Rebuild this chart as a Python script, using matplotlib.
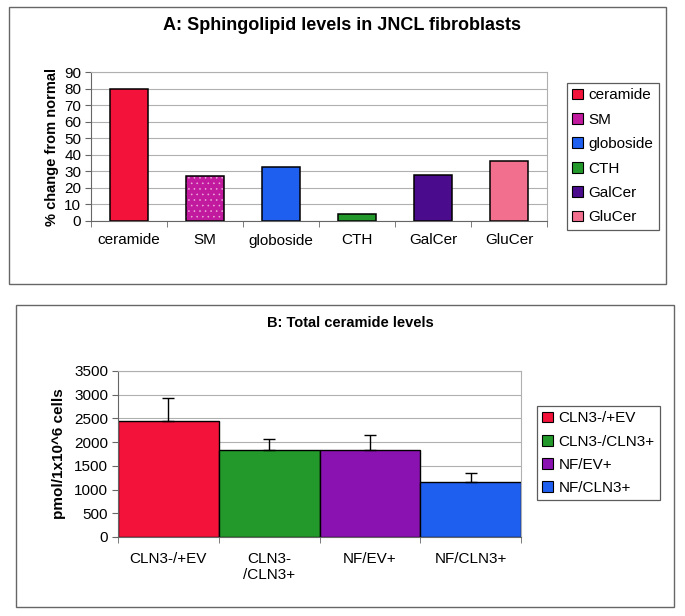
import matplotlib
matplotlib.use("Agg")
import matplotlib.pyplot as plt
from matplotlib.patches import Rectangle, Patch

plt.rcParams['font.family'] = ['Liberation Sans', 'DejaVu Sans']
plt.rcParams['hatch.linewidth'] = 0.4

# panel A data
lipids = ['ceramide', 'SM', 'globoside', 'CTH', 'GalCer', 'GluCer']
pct_change = [79.5, 27, 32.5, 4.5, 27.5, 36.5]
lipid_colors = ['#f2123a', '#c21a9e', '#1f5ff0', '#22992a', '#4a0c8c', '#f2708e']

# panel B data
groups = ['CLN3-/+EV', 'CLN3-/CLN3+', 'NF/EV+', 'NF/CLN3+']
group_ticks = ['CLN3-/+EV', 'CLN3-\n/CLN3+', 'NF/EV+', 'NF/CLN3+']
ceramide_pmol = [2440, 1830, 1830, 1170]
ceramide_err = [490, 240, 320, 180]
group_colors = ['#f2123a', '#22992a', '#8a12b0', '#1f5ff0']

W, H = 685, 616
fig = plt.figure(figsize=(W / 100, H / 100), dpi=100)


def px(x0, y0, x1, y1):
    # pixel box (top-left origin) -> figure fraction rect
    return [x0 / W, (H - y1) / H, (x1 - x0) / W, (y1 - y0) / H]


# outer frames
for box in [(9, 7, 666, 284), (16, 305, 674, 607)]:
    r = px(*box)
    fig.patches.append(Rectangle((r[0], r[1]), r[2], r[3], transform=fig.transFigure,
                                 fill=False, edgecolor='#666666', linewidth=1.0))


def style_axes(ax, xpad):
    ax.set_axisbelow(True)
    ax.yaxis.grid(True, color='#b0b0b0', linewidth=0.8)
    for s in ['top', 'right']:
        ax.spines[s].set_color('#b0b0b0')
    for s in ['left', 'bottom']:
        ax.spines[s].set_color('#666666')
    ax.tick_params(axis='y', direction='out', length=4, color='#666666', labelsize=11, pad=3)
    ax.tick_params(axis='x', which='minor', direction='out', length=4, color='#666666')
    ax.tick_params(axis='x', which='major', length=0, labelsize=11, pad=xpad)


def add_legend(colors, labels, box, spacing):
    r = px(*box)
    handles = [Patch(facecolor=c, edgecolor='black', linewidth=0.8) for c in colors]
    leg = fig.legend(handles, labels, loc='upper left', bbox_to_anchor=(r[0], r[1] + r[3]),
                     fontsize=11, frameon=True, fancybox=False, edgecolor='#333333',
                     handlelength=0.7, handleheight=0.7, handletextpad=0.35,
                     labelspacing=spacing, borderpad=0.35, borderaxespad=0)
    leg.get_frame().set_linewidth(0.9)
    return leg


# ---- panel A ----
axA = fig.add_axes(px(91, 72, 547, 221))
xa = range(len(lipids))
axA.bar(xa, pct_change, width=0.5, color=lipid_colors, edgecolor='none')
# stippled SM bar
axA.bar(1, pct_change[1], width=0.5, color='none', edgecolor='#eab0dc', hatch='...', linewidth=0)
axA.bar(xa, pct_change, width=0.5, color='none', edgecolor='black', linewidth=1.1)
axA.set_xlim(-0.5, len(lipids) - 0.5)
axA.set_ylim(0, 90)
axA.set_yticks(range(0, 91, 10))
axA.set_xticks(list(xa))
axA.set_xticklabels(lipids)
axA.set_xticks([i + 0.5 for i in range(-1, len(lipids))], minor=True)
style_axes(axA, 9)
axA.set_ylabel('% change from normal', fontsize=10.5, fontweight='bold', labelpad=4)
fig.text(342 / W, 1 - 26 / H, 'A: Sphingolipid levels in JNCL fibroblasts',
         ha='center', va='center', fontsize=13, fontweight='bold')
add_legend(lipid_colors, lipids, (567, 83, 665, 227), 0.68)

# ---- panel B ----
axB = fig.add_axes(px(118, 371, 521, 537))
xb = range(len(groups))
axB.bar(xb, ceramide_pmol, width=1.0, color=group_colors, edgecolor='black', linewidth=1.0)
axB.errorbar(list(xb), ceramide_pmol, yerr=[[0] * len(groups), ceramide_err], fmt='none',
             ecolor='black', elinewidth=1.0, capsize=4, capthick=1.0)
axB.set_xlim(-0.5, len(groups) - 0.5)
axB.set_ylim(0, 3500)
axB.set_yticks(range(0, 3501, 500))
axB.set_xticks(list(xb))
axB.set_xticklabels(group_ticks)
axB.set_xticks([i + 0.5 for i in range(-1, len(groups))], minor=True)
style_axes(axB, 11)
axB.set_ylabel('pmol/1x10^6 cells', fontsize=11, fontweight='bold', labelpad=6)
fig.text(350 / W, 1 - 323 / H, 'B: Total ceramide levels',
         ha='center', va='center', fontsize=10.5, fontweight='bold')
add_legend(group_colors, groups, (537, 406, 669, 500), 0.6)

fig.savefig('out.png', dpi=100)
